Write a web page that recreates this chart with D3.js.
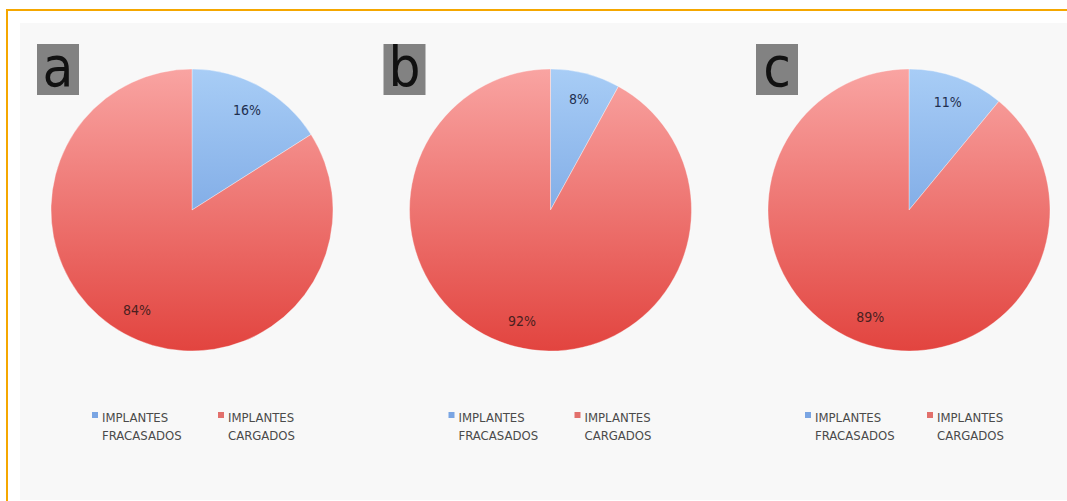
<!DOCTYPE html>
<html><head><meta charset="utf-8">
<script src="https://cdn.jsdelivr.net/npm/d3@7"></script>
<style>html,body{margin:0;padding:0;background:#fff;}svg{display:block;}</style>
</head><body>
<svg id="chart" width="1067" height="501"></svg>
<script>
const panels = ["a", "b", "c"];
const categories = ["IMPLANTES FRACASADOS", "IMPLANTES CARGADOS"];
const legendLines = [["IMPLANTES", "FRACASADOS"], ["IMPLANTES", "CARGADOS"]];
const failedPct = [16, 8, 11];
const loadedPct = [84, 92, 89];

const svg = d3.select("#chart");
const W = 1067, H = 501;

// frame
svg.append("rect").attr("x", 20).attr("y", 23).attr("width", W - 20).attr("height", H - 24).attr("fill", "#f8f8f8");
svg.append("line").attr("x1", 7).attr("x2", 7).attr("y1", 10).attr("y2", H).attr("stroke", "#f5a700").attr("stroke-width", 2);
svg.append("line").attr("x1", 6).attr("x2", W).attr("y1", 10).attr("y2", 10).attr("stroke", "#f5a700").attr("stroke-width", 2);

const defs = svg.append("defs");
const gradBlue = defs.append("linearGradient").attr("id", "gBlue").attr("gradientUnits", "userSpaceOnUse")
  .attr("x1", 0).attr("y1", -141).attr("x2", 0).attr("y2", 141);
gradBlue.append("stop").attr("offset", "0%").attr("stop-color", "#a8cdf6");
gradBlue.append("stop").attr("offset", "100%").attr("stop-color", "#5e8fd8");
const gradRed = defs.append("linearGradient").attr("id", "gRed").attr("gradientUnits", "userSpaceOnUse")
  .attr("x1", 0).attr("y1", -141).attr("x2", 0).attr("y2", 141);
gradRed.append("stop").attr("offset", "0%").attr("stop-color", "#f9a4a2");
gradRed.append("stop").attr("offset", "100%").attr("stop-color", "#e2443f");
const fills = ["url(#gBlue)", "url(#gRed)"];
const legendColors = ["#7aa5e3", "#e2706c"];

const x = d3.scalePoint().domain(panels).range([192, 909]);
const r = 141;
const pie = d3.pie().sort(null).value(d => d);
const arc = d3.arc().innerRadius(0).outerRadius(r);
const labelArc = d3.arc().innerRadius(r * 0.81).outerRadius(r * 0.81);
const boxOff = [-155, -167, -153];
const legOff = [-100, -102, -104];
const legGap = [126, 126, 122];

panels.forEach((p, i) => {
  const cx = x(p), cy = 210;
  const g = svg.append("g").attr("transform", `translate(${cx},${cy})`);
  const data = pie([failedPct[i], loadedPct[i]]);
  g.selectAll("path").data(data).join("path")
    .attr("d", arc).attr("fill", (d, j) => fills[j])
    .attr("stroke", "rgba(255,255,255,0.35)").attr("stroke-width", 1);
  g.selectAll("text.pct").data(data).join("text").attr("class", "pct")
    .attr("transform", d => `translate(${labelArc.centroid(d)})`)
    .attr("text-anchor", "middle").attr("dy", "0.35em")
    .attr("font-family", "DejaVu Sans Condensed, DejaVu Sans, sans-serif")
    .attr("font-size", 14).attr("fill", (d, j) => j === 0 ? "#1f2f4f" : "#4a1f1f")
    .text(d => d.data + "%");

  // panel letter
  const bx = cx + boxOff[i];
  svg.append("rect").attr("x", bx).attr("y", 44).attr("width", 42).attr("height", 51).attr("fill", "#828282");
  svg.append("text").attr("x", bx + 21).attr("y", 86).attr("text-anchor", "middle")
    .attr("font-family", "DejaVu Sans Condensed, DejaVu Sans, sans-serif").attr("font-size", 56).attr("fill", "#111")
    .text(p);

  // legend
  const lx0 = cx + legOff[i];
  categories.forEach((c, j) => {
    const lx = lx0 + j * legGap[i];
    svg.append("rect").attr("x", lx).attr("y", 412).attr("width", 6).attr("height", 6).attr("fill", legendColors[j]);
    const t = svg.append("text").attr("x", lx + 10).attr("y", 422)
      .attr("font-family", "DejaVu Sans Condensed, DejaVu Sans, sans-serif")
      .attr("font-size", 13).attr("fill", "#4a4a4a");
    legendLines[j].forEach((ln, k) => {
      t.append("tspan").attr("x", lx + 10).attr("dy", k === 0 ? 0 : 18).text(ln);
    });
  });
});
</script>
</body></html>
